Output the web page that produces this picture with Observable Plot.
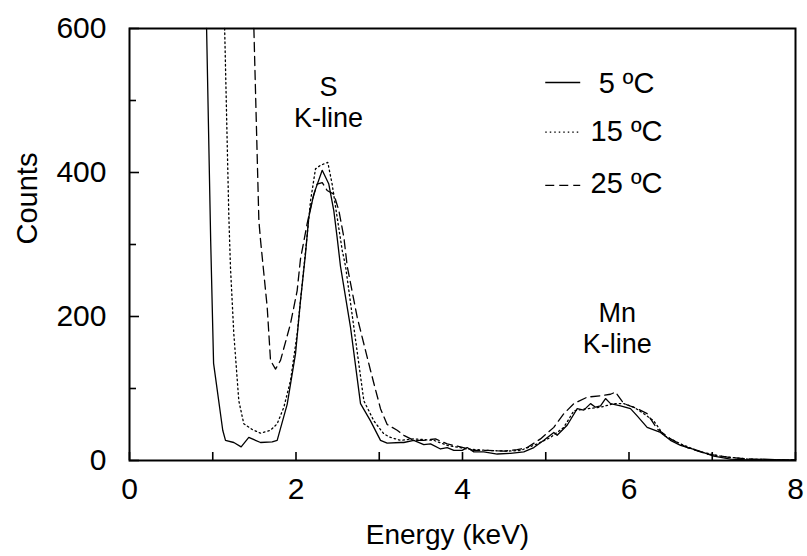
<!DOCTYPE html>
<html><head><meta charset="utf-8">
<script src="https://cdn.jsdelivr.net/npm/d3@7"></script>
<script src="https://cdn.jsdelivr.net/npm/@observablehq/plot@0.6"></script>
<style>body{margin:0;background:#fff}</style>
</head><body><div id="chart"></div>
<script>
// 5 ºC (solid)
const energy5 = [0.926, 0.975, 1.01, 1.12, 1.153, 1.253, 1.341, 1.433, 1.574, 1.714, 1.774, 1.894, 1.994, 2.054, 2.114, 2.154, 2.214, 2.315, 2.394, 2.454, 2.494, 2.534, 2.655, 2.775, 2.895, 3.015, 3.095, 3.255, 3.295, 3.415, 3.535, 3.616, 3.736, 3.816, 3.896, 3.996, 4.056, 4.136, 4.256, 4.417, 4.577, 4.736, 4.857, 4.977, 5.097, 5.137, 5.257, 5.378, 5.457, 5.538, 5.598, 5.658, 5.718, 5.778, 5.898, 6.018, 6.098, 6.218, 6.378, 6.498, 6.619, 6.819, 7.019, 7.219, 7.42, 7.62, 7.82, 8.0];
const counts5 = [600, 306, 135, 42, 28, 25, 19, 32, 25, 26, 28, 78, 148, 222, 287, 338, 370, 403, 384, 347, 310, 270, 185, 79, 55, 28, 24, 25, 25, 28, 22, 23, 16, 18, 14, 14, 18, 12, 12, 9, 10, 12, 18, 28, 39, 35, 49, 72, 70, 79, 74, 76, 86, 79, 76, 72, 62, 46, 39, 28, 21, 14, 6, 2, 1, 2, 1, 1];
// 15 ºC (dotted)
const energy15 = [1.143, 1.193, 1.213, 1.253, 1.313, 1.373, 1.474, 1.574, 1.694, 1.774, 1.854, 1.934, 2.014, 2.074, 2.114, 2.174, 2.234, 2.294, 2.382, 2.434, 2.494, 2.555, 2.595, 2.695, 2.815, 2.935, 3.055, 3.135, 3.255, 3.415, 3.656, 3.816, 4.056, 4.296, 4.537, 4.697, 4.897, 5.057, 5.217, 5.337, 5.498, 5.658, 5.818, 5.938, 6.058, 6.178, 6.298, 6.418, 6.619, 6.859, 7.099, 7.42, 7.7, 8.0];
const counts15 = [600, 340, 268, 176, 83, 51, 43, 38, 42, 51, 74, 111, 176, 245, 290, 360, 405, 410, 414, 384, 338, 292, 270, 185, 83, 55, 37, 32, 28, 30, 28, 21, 16, 14, 13, 14, 23, 32, 46, 69, 72, 74, 79, 79, 74, 65, 55, 35, 23, 12, 6, 2, 1, 1];
// 25 ºC (dashed)
const energy25 = [1.494, 1.554, 1.574, 1.654, 1.694, 1.754, 1.814, 1.934, 2.014, 2.054, 2.134, 2.194, 2.254, 2.315, 2.374, 2.454, 2.515, 2.575, 2.615, 2.735, 2.895, 3.015, 3.095, 3.215, 3.295, 3.415, 3.535, 3.676, 3.816, 3.976, 4.136, 4.296, 4.497, 4.657, 4.777, 4.937, 5.097, 5.217, 5.337, 5.498, 5.658, 5.778, 5.838, 5.938, 6.098, 6.218, 6.338, 6.498, 6.699, 6.939, 7.219, 7.6, 8.0];
const counts25 = [600, 333, 306, 213, 139, 127, 139, 190, 236, 280, 329, 361, 384, 386, 375, 370, 347, 310, 270, 199, 125, 72, 50, 42, 35, 28, 28, 30, 23, 19, 14, 14, 13, 15, 18, 30, 46, 65, 79, 88, 90, 92, 95, 79, 72, 65, 44, 30, 18, 9, 4, 1, 1];

const seriesNames = ["5 ºC", "15 ºC", "25 ºC"];
const xTicks = [0, 2, 4, 6, 8];
const xMinorTicks = [1, 3, 5, 7];
const yTicks = [0, 200, 400, 600];
const yMinorTicks = [100, 300, 500];
const peakLabels = ["S\nK-line", "Mn\nK-line"];
const peakEnergy = [2.39, 5.86];
const peakCount = [499, 185];

const dashes = [null, "1.5,3", "9,5"];
const series = [[energy5, counts5], [energy15, counts15], [energy25, counts25]];
const rows = [];
series.forEach(([e, c], i) => e.forEach((v, j) => rows.push({energy: v, counts: c[j], series: seriesNames[i]})));

// legend layout (data space)
const legendX1 = 5.0, legendX2 = 5.42, legendTextX = 5.97;
const legendLineY = [525, 456, 382];
const legendTextY = [524, 456, 385];

const W = 807, H = 556, mL = 129, mR = 12, mT = 28, mB = 96;
const fw = W - mL - mR, fh = H - mT - mB;
const xMin = 0, xMax = 8, yMin = 0, yMax = 600;
const xPerPx = (xMax - xMin) / fw, yPerPx = (yMax - yMin) / fh;
const font = "'Liberation Sans', Arial, Helvetica, sans-serif";

const marks = [];
seriesNames.forEach((name, i) => {
  marks.push(Plot.line(rows.filter(d => d.series === name), {
    x: "energy", y: "counts", stroke: "black", strokeWidth: 1.3,
    strokeDasharray: dashes[i]
  }));
  marks.push(Plot.ruleY([legendLineY[i]], {x1: legendX1, x2: legendX2, y: d => d, stroke: "black", strokeWidth: 1.3, strokeDasharray: dashes[i]}));
  marks.push(Plot.text([seriesNames[i]], {x: legendTextX, y: legendTextY[i], text: d => d, fontSize: 29, fill: "black"}));
});

const plot = Plot.plot({
  width: W, height: H,
  marginLeft: mL, marginRight: mR, marginTop: mT, marginBottom: mB,
  style: {fontFamily: font, fontSize: "28px", background: "white"},
  x: {domain: [xMin, xMax]},
  y: {domain: [yMin, yMax]},
  marks: [
    Plot.frame({stroke: "black", strokeWidth: 2}),
    ...marks,
    Plot.text(peakLabels, {x: (d, i) => peakEnergy[i], y: (d, i) => peakCount[i], text: d => d, fontSize: 27, lineHeight: 1.15, fill: "black"}),
    // inward ticks
    Plot.ruleX(xTicks.concat(xMinorTicks), {x: d => d, y1: yMin, y2: yMin + 8 * yPerPx, stroke: "black", strokeWidth: 1.6}),
    Plot.ruleY(yTicks, {y: d => d, x1: xMin, x2: xMin + 10 * xPerPx, stroke: "black", strokeWidth: 1.6}),
    Plot.ruleY(yMinorTicks, {y: d => d, x1: xMin, x2: xMin + 7 * xPerPx, stroke: "black", strokeWidth: 1.6}),
    Plot.axisX(xTicks, {tickSize: 0, tickPadding: 17, label: null, fontSize: 30}),
    Plot.axisY(yTicks, {tickSize: 0, tickPadding: 23, label: null, fontSize: 30}),
    Plot.text(["Energy (keV)"], {frameAnchor: "bottom", dy: 83, dx: -15, text: d => d, fontSize: 28, fill: "black"}),
    Plot.text(["Counts"], {frameAnchor: "left", dx: -102, rotate: -90, text: d => d, fontSize: 29, fill: "black"})
  ]
});
document.getElementById("chart").appendChild(plot);
</script>
</body></html>
